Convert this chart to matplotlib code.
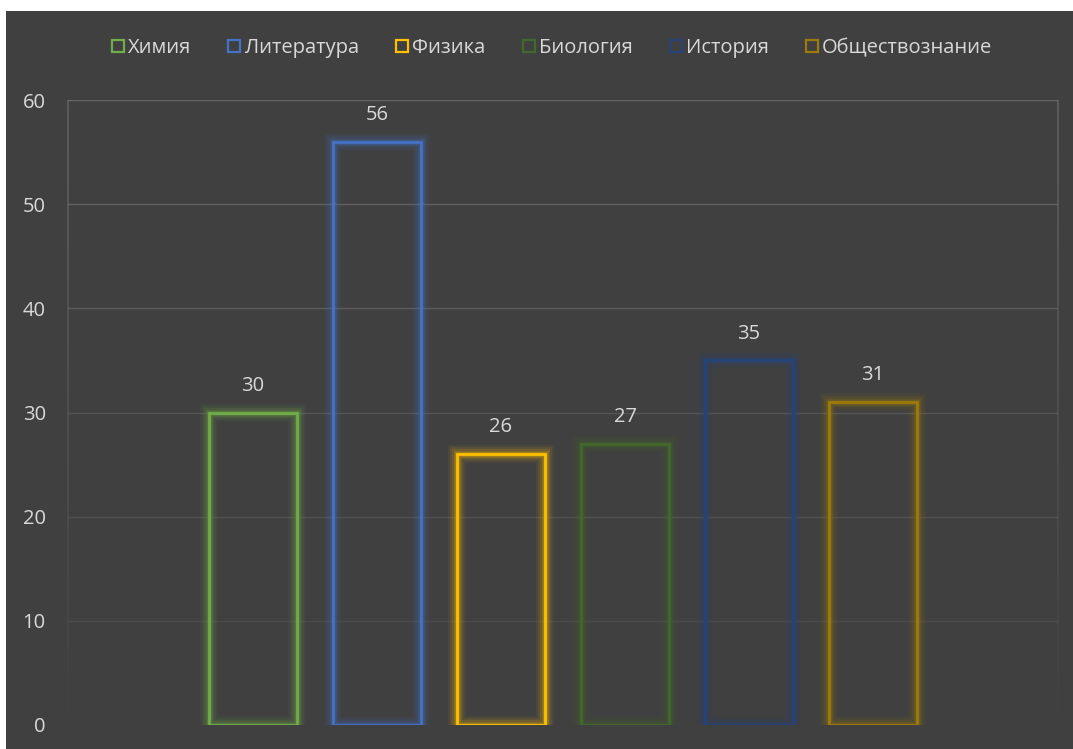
import matplotlib
matplotlib.use("Agg")
import matplotlib.pyplot as plt
import numpy as np
from matplotlib.patches import Rectangle
from matplotlib.lines import Line2D

subjects = ["Химия", "Литература", "Физика", "Биология", "История", "Обществознание"]
values = [30, 56, 26, 27, 35, 31]
colors = ["#70AD47", "#4472C4", "#FFC000", "#43682B", "#264478", "#9E7A0A"]
yticks = [0, 10, 20, 30, 40, 50, 60]

plt.rcParams['font.family'] = ['Open Sans', 'DejaVu Sans']
BG = "#404040"
TXT = "#D9D9D9"

fig = plt.figure(figsize=(10.73, 7.49), dpi=100)
fig.patch.set_facecolor("white")
bgrect = Rectangle((6/1073, 0), 1 - 6/1073, 1 - 11/749, transform=fig.transFigure,
                   facecolor=BG, edgecolor="none", zorder=-10)
fig.add_artist(bgrect)

ax = fig.add_axes([68/1073, (749-725)/749, (1058-68)/1073, (725-100)/749])
ax.set_zorder(1)
ax.patch.set_alpha(0)

n = len(values)
x = np.arange(n)
ax.set_xlim(2.5 - 3.99, 2.5 + 3.99)
ax.set_ylim(0, 60)

# gridlines fading toward bottom
for t in yticks[1:]:
    a = 0.10 + 0.55 * (t / 60)
    ax.axhline(t, color="#7a7a7a", lw=1.0, alpha=a, zorder=1)
# side borders fading
ys = np.linspace(0, 60, 61)
for i in range(len(ys) - 1):
    a = 0.02 + 0.55 * (ys[i] / 60)
    for xv in ax.get_xlim():
        ax.plot([xv, xv], [ys[i], ys[i + 1]], color="#7a7a7a", lw=1.2, alpha=a,
                zorder=1, solid_capstyle="butt", clip_on=False)

w = 0.71
for xi, v, c in zip(x, values, colors):
    # glow
    for lw, al in [(13, 0.06), (10, 0.08), (7.5, 0.12), (5, 0.16), (3.5, 0.2)]:
        ax.bar(xi, v, width=w, facecolor="none", edgecolor=c, linewidth=lw, alpha=al, zorder=2)
    ax.bar(xi, v, width=w, facecolor="none", edgecolor=c, linewidth=2, zorder=3)
    ax.text(xi, v + 1.6, str(v), ha="center", va="bottom", color=TXT, fontsize=14.5, zorder=4)

for s in ax.spines.values():
    s.set_visible(False)
ax.set_xticks([])
ax.set_yticks(yticks)
ax.tick_params(axis="y", length=0, pad=16, labelcolor=TXT, labelsize=14.5)

handles = [Line2D([], [], marker="s", linestyle="none", markersize=9,
                  markerfacecolor="none", markeredgecolor=c, markeredgewidth=1.6)
           for c in colors]
leg = fig.legend(handles, subjects, loc="center", bbox_to_anchor=(551/1073, 1 - 48/749),
                 ncol=6, frameon=False, fontsize=14.5, labelcolor=TXT,
                 handletextpad=0.1, columnspacing=1.75, handlelength=0.8)

fig.savefig("out.png", dpi=100, facecolor=fig.get_facecolor())
